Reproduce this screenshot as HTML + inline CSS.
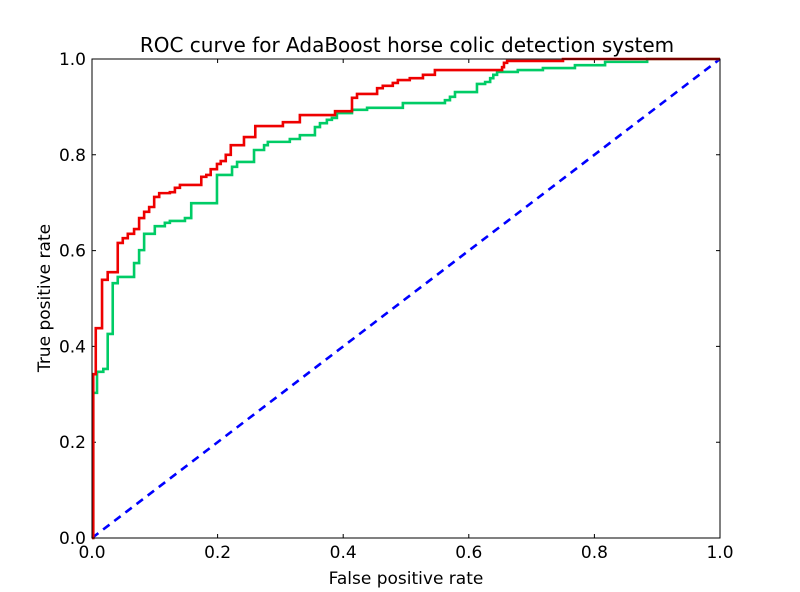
<!DOCTYPE html>
<html><head><meta charset="utf-8"><style>
body{margin:0;background:#fff}
svg{display:block;font-family:"DejaVu Sans","Liberation Sans",sans-serif}
</style></head><body>
<svg id="chart" width="800" height="592">
<rect width="800" height="592" fill="#fff"/>
<text x="407" y="52" font-size="20" text-anchor="middle">ROC curve for AdaBoost horse colic detection system</text>
<text x="406" y="584" font-size="17" text-anchor="middle">False positive rate</text>
<text x="50" y="298" font-size="17" text-anchor="middle" transform="rotate(-90 50 298)">True positive rate</text>
<g id="ticks"></g>
<g id="series"></g>
<rect x="92" y="59" width="628" height="479" fill="none" stroke="#000" stroke-width="1"/>
</svg>
<script>
const xTicks=[0,0.2,0.4,0.6,0.8,1.0];
const yTicks=[0,0.2,0.4,0.6,0.8,1.0];
const redFpr=[0.002,0.006,0.016,0.025,0.041,0.049,0.057,0.067,0.075,0.083,0.091,0.099,0.107,0.124,0.132,0.140,0.174,0.182,0.189,0.199,0.205,0.213,0.221,0.242,0.260,0.304,0.331,0.387,0.414,0.422,0.454,0.463,0.479,0.487,0.506,0.527,0.546,0.653,0.656,0.661,0.750,1.0];
const redTpr=[0.342,0.438,0.539,0.555,0.616,0.626,0.635,0.645,0.668,0.681,0.691,0.712,0.720,0.722,0.731,0.737,0.754,0.758,0.770,0.781,0.787,0.800,0.820,0.837,0.860,0.868,0.883,0.891,0.919,0.927,0.939,0.944,0.950,0.956,0.960,0.967,0.977,0.983,0.992,0.996,1.0,1.0];
const greenFpr=[0.002,0.008,0.018,0.025,0.033,0.041,0.067,0.075,0.083,0.100,0.116,0.124,0.148,0.158,0.199,0.223,0.231,0.258,0.274,0.280,0.315,0.331,0.355,0.363,0.374,0.382,0.390,0.414,0.438,0.495,0.562,0.570,0.578,0.613,0.626,0.634,0.639,0.645,0.678,0.718,0.769,0.817,0.884,1.0];
const greenTpr=[0.303,0.347,0.353,0.426,0.532,0.545,0.574,0.601,0.635,0.651,0.658,0.662,0.668,0.699,0.758,0.775,0.785,0.810,0.820,0.827,0.833,0.841,0.858,0.866,0.873,0.877,0.887,0.894,0.898,0.908,0.914,0.921,0.931,0.948,0.952,0.960,0.967,0.973,0.977,0.981,0.987,0.994,1.0,1.0];
const diagX=[0,1];
const diagY=[0,1];
const NS="http://www.w3.org/2000/svg";
const X0=92,X1=720,Y0=538,Y1=59;
function sx(v){return X0+v*(X1-X0);}
function sy(v){return Y0-v*(Y0-Y1);}
const tg=document.getElementById('ticks');
xTicks.forEach(v=>{
 const x=sx(v);
 const l=document.createElementNS(NS,'path');
 l.setAttribute('d',`M${x},${Y0}v-4M${x},${Y1}v4`);l.setAttribute('stroke','#000');
 
 
 tg.appendChild(l);
 const t=document.createElementNS(NS,'text');
 t.setAttribute('x',x);t.setAttribute('y',Y0+20);t.setAttribute('font-size','17');t.setAttribute('text-anchor','middle');
 t.textContent=v.toFixed(1);
 
 
 tg.appendChild(t);
});
yTicks.forEach(v=>{
 const y=sy(v);
 const l=document.createElementNS(NS,'path');
 l.setAttribute('d',`M${X0},${y}h4M${X1},${y}h-4`);l.setAttribute('stroke','#000');
 
 
 tg.appendChild(l);
 const t=document.createElementNS(NS,'text');
 t.setAttribute('x',X0-6);t.setAttribute('y',y+6);t.setAttribute('font-size','17');t.setAttribute('text-anchor','end');
 t.textContent=v.toFixed(1);
 
 
 tg.appendChild(t);
});
const sg=document.getElementById('series');
function step(fx,fy,color,name){
 let d=`M${sx(0)},${sy(0)}`;
 for(let i=0;i<fx.length;i++){d+=`H${sx(fx[i])}V${sy(fy[i])}`;}
 const p=document.createElementNS(NS,'path');
 p.setAttribute('d',d);p.setAttribute('fill','none');p.setAttribute('stroke',color);p.setAttribute('stroke-width','2.6');
 
 
 sg.appendChild(p);
}
const dl=document.createElementNS(NS,'path');
dl.setAttribute('d',`M${sx(diagX[0])},${sy(diagY[0])}L${sx(diagX[1])},${sy(diagY[1])}`);
dl.setAttribute('stroke','#0000ff');dl.setAttribute('stroke-width','2.6');dl.setAttribute('stroke-dasharray','8,6');dl.setAttribute('fill','none');


sg.appendChild(dl);
step(greenFpr,greenTpr,'#00cc66','roc-curve-green');
step(redFpr,redTpr,'#ee0000','roc-curve-red');
</script>
</body></html>
